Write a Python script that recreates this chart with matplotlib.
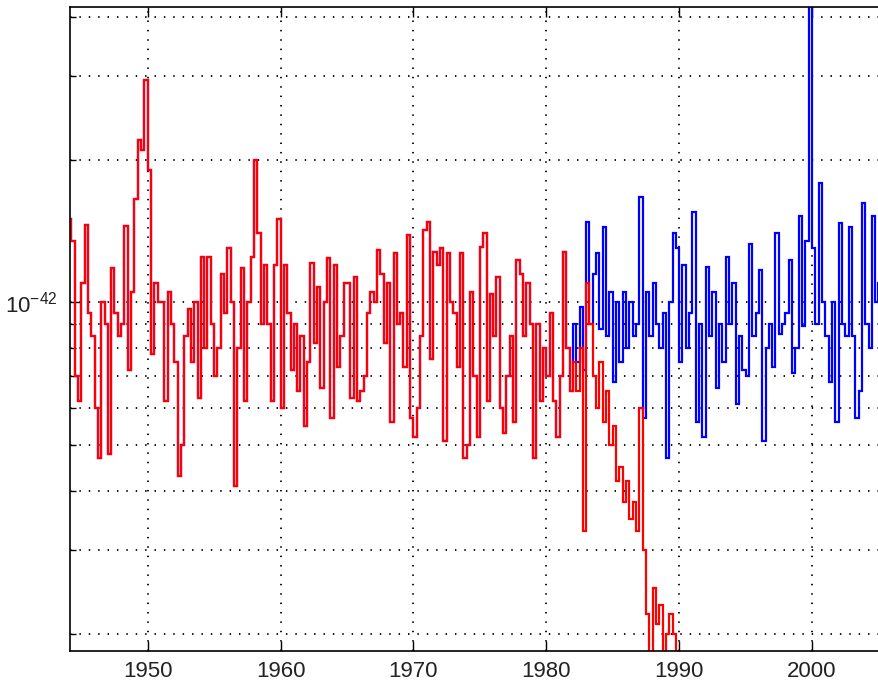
import numpy as np
import matplotlib
matplotlib.use("Agg")
import matplotlib.pyplot as plt
from matplotlib.ticker import LogLocator, NullFormatter

plt.rcParams['font.family'] = ['Liberation Sans', 'DejaVu Sans']
plt.rcParams['mathtext.fontset'] = 'custom'
plt.rcParams['mathtext.rm'] = 'Liberation Sans'

SCALE = 1e-42
T0 = 1944.0     # first quarter
DT = 0.25       # quarterly values

# blue series, 4 values per year (units of 1e-42)
blue = [
    1.5, 1.35, 0.7, 0.62,     # 1944
    1.1, 1.46, 0.95, 0.85,    # 1945
    0.6, 0.47, 1.0, 0.9,      # 1946
    0.48, 1.18, 0.95, 0.85,   # 1947
    0.9, 1.45, 0.72, 1.05,    # 1948
    1.65, 2.2, 2.1, 2.95,     # 1949
    1.9, 0.78, 1.1, 1.0,      # 1950
    1.0, 0.62, 1.05, 0.9,     # 1951
    0.75, 0.43, 0.5, 0.85,    # 1952
    0.97, 0.75, 1.0, 0.63,    # 1953
    1.25, 0.8, 1.25, 0.9,     # 1954
    0.7, 0.8, 1.15, 0.95,     # 1955
    1.3, 1.0, 0.41, 0.8,      # 1956
    1.18, 0.62, 1.0, 1.25,    # 1957
    2.0, 1.4, 0.9, 1.2,       # 1958
    0.9, 0.62, 1.2, 1.5,      # 1959
    0.6, 1.2, 0.95, 0.72,     # 1960
    0.9, 0.65, 0.85, 0.55,    # 1961
    0.75, 1.21, 0.82, 1.08,   # 1962
    0.66, 1.0, 1.24, 0.57,    # 1963
    1.2, 0.73, 0.85, 1.1,     # 1964
    1.1, 0.63, 1.13, 0.62,    # 1965
    0.65, 0.7, 0.95, 1.05,    # 1966
    1.0, 1.29, 1.15, 0.82,    # 1967
    1.1, 0.56, 1.27, 0.9,     # 1968
    0.95, 0.73, 1.39, 0.57,   # 1969
    0.52, 0.6, 0.85, 1.42,    # 1970
    1.48, 0.76, 1.28, 1.2,    # 1971
    1.3, 0.51, 1.27, 1.0,     # 1972
    0.95, 0.73, 1.27, 0.47,   # 1973
    0.5, 1.05, 0.7, 0.52,     # 1974
    1.31, 1.4, 0.62, 1.04,    # 1975
    0.85, 1.13, 0.6, 0.53,    # 1976
    0.7, 0.85, 0.56, 1.23,    # 1977
    1.15, 0.85, 1.1, 0.9,     # 1978
    0.47, 0.9, 0.62, 0.8,     # 1979
    0.7, 0.95, 0.62, 0.52,    # 1980
    0.7, 1.28, 0.8, 0.65,     # 1981
    0.9, 0.75, 0.98, 0.72,    # 1982
    1.48, 0.9, 1.15, 1.27,    # 1983
    0.88, 1.44, 0.85, 1.05,   # 1984
    0.68, 1.0, 0.75, 1.05,    # 1985
    0.8, 1.0, 0.85, 0.9,      # 1986
    1.67, 0.57, 1.05, 0.85,   # 1987
    1.1, 0.9, 0.8, 0.95,      # 1988
    0.47, 1.0, 1.4, 1.3,      # 1989
    0.75, 1.2, 0.8, 0.95,     # 1990
    1.55, 0.56, 0.9, 0.52,    # 1991
    1.19, 0.85, 1.05, 0.66,   # 1992
    0.9, 0.75, 1.25, 0.9,     # 1993
    1.1, 0.61, 0.85, 0.72,    # 1994
    0.7, 1.33, 0.85, 0.95,    # 1995
    1.17, 0.51, 0.8, 0.9,     # 1996
    0.73, 1.4, 0.86, 0.9,     # 1997
    0.95, 1.23, 0.71, 0.8,    # 1998
    1.52, 0.89, 1.35, 6.0,    # 1999
    1.3, 0.9, 1.79, 1.0,      # 2000
    0.85, 0.68, 1.0, 0.56,    # 2001
    1.47, 0.9, 0.85, 1.44,    # 2002
    0.85, 0.57, 0.65, 1.62,   # 2003
    0.9, 0.8, 1.52, 1.0,      # 2004
    1.1,                      # 2005
]

# red series follows blue until 1982, then falls away
red_split = 1982.0
red_tail = [
    0.75, 0.65, 0.8, 0.33,    # 1982
    1.1, 0.9, 0.7, 0.6,       # 1983
    0.75, 0.56, 0.65, 0.5,    # 1984
    0.55, 0.42, 0.45, 0.38,   # 1985
    0.42, 0.35, 0.38, 0.33,   # 1986
    0.6, 0.3, 0.22, 0.17,     # 1987
    0.25, 0.21, 0.23, 0.17,   # 1988
    0.2, 0.22, 0.2, 0.17,     # 1989
]

year_ticks = [1950, 1960, 1970, 1980, 1990, 2000]

n_head = int(round((red_split - T0) / DT))
red = blue[:n_head] + red_tail

blue_v = np.array(blue) * SCALE
red_v = np.array(red) * SCALE
blue_edges = T0 + DT * np.arange(len(blue_v) + 1)
red_edges = T0 + DT * np.arange(len(red_v) + 1)

fig = plt.figure(figsize=(8.79, 6.91), dpi=100)
ax = fig.add_axes([0.0796, 0.0579, 0.9204, 0.932])

ax.stairs(blue_v, blue_edges, baseline=None, color=(0, 0, 1), lw=1.6)
ax.stairs(red_v, red_edges, baseline=None, color=(1, 0, 0), lw=1.6)

ax.set_yscale('log')
ax.set_xlim(1944.15, 2005.04)
ax.set_ylim(1.84e-43, 4.2e-42)

ax.set_xticks(year_ticks)
ax.set_xticklabels([str(y) for y in year_ticks])
ax.set_yticks([1e-42])
ax.set_yticklabels([r'$\mathregular{10^{-42}}$'])
ax.yaxis.set_minor_locator(LogLocator(base=10, subs=np.arange(2, 10)))
ax.yaxis.set_minor_formatter(NullFormatter())

grid_style = dict(color='black', linestyle=(0, (0.8, 4.4)), linewidth=1.3)
ax.grid(True, axis='x', which='major', **grid_style)
ax.grid(True, axis='y', which='both', **grid_style)
ax.set_axisbelow(True)

ax.tick_params(axis='both', which='major', direction='in', length=7,
               width=1.0, labelsize=16, colors='black', labelcolor='#222222')
ax.tick_params(axis='x', which='both', top=True, pad=7)
ax.tick_params(axis='y', which='minor', direction='in', length=4, width=1.0)
ax.tick_params(axis='y', which='both', right=False, pad=9)

ax.spines['right'].set_visible(False)
for s in ['left', 'top', 'bottom']:
    ax.spines[s].set_linewidth(1.2)

fig.savefig('out.png', dpi=100)
